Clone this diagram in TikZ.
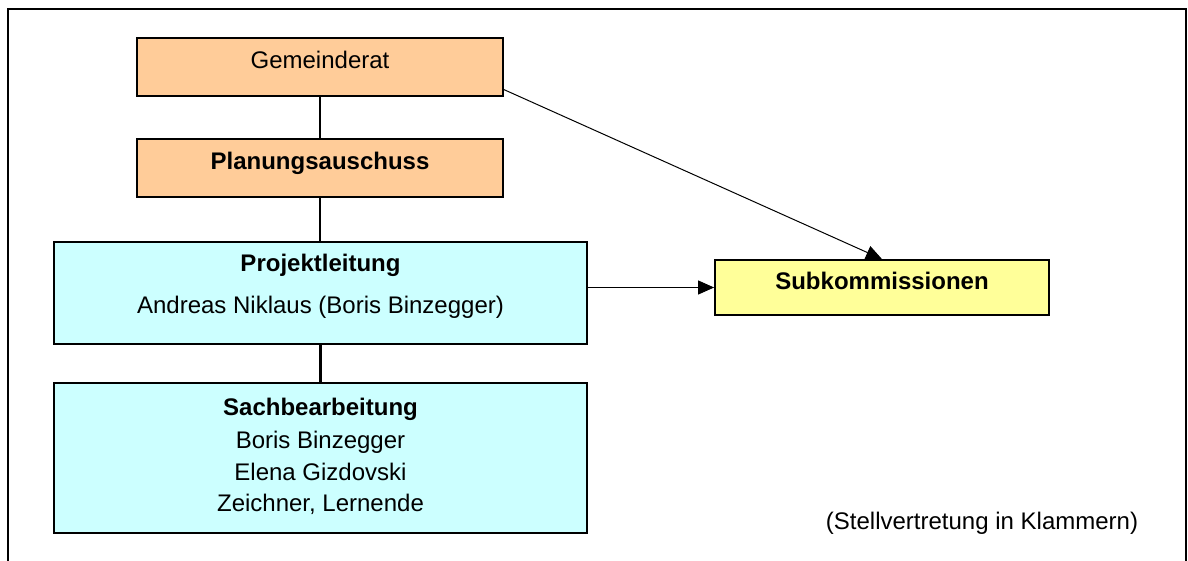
\documentclass[tikz,border=0pt]{standalone}
\usepackage{fontspec}
\setmainfont{Liberation Sans}
\usetikzlibrary{arrows.meta}
\definecolor{ratorange}{HTML}{FFCC99}
\definecolor{leitcyan}{HTML}{CCFFFF}
\definecolor{subyellow}{HTML}{FFFF99}

\begin{document}
\begin{tikzpicture}[x=0.5pt,y=-0.5pt,font=\fontsize{12}{16}\selectfont,
  box/.style={draw,line width=0.9pt,inner sep=0pt,text height=8pt,text depth=6pt},
  zeile/.style={anchor=base,inner sep=0pt},
  link/.style={line width=0.85pt},
  pfeil/.style={line width=0.5pt,-{Triangle[length=8pt,width=7pt]}}]
  \useasboundingbox (0,0) rectangle (1188,561);
  % Rahmen, unten offen
  \draw[line width=1pt] (8,561)--(8,9)--(1186,9)--(1186,561);

  % Gremien
  \node[box,fill=ratorange,minimum width=183pt,minimum height=29pt] (gem) at (320,67) {Gemeinderat};
  \node[box,fill=ratorange,minimum width=183pt,minimum height=29pt,font=\fontsize{12}{16}\selectfont\bfseries] (plan) at (320,168) {Planungsauschuss};
  \node[box,fill=subyellow,minimum width=167pt,minimum height=27.5pt,font=\fontsize{12}{16}\selectfont\bfseries] (sub) at (882,287.5) {Subkommissionen};

  % Projektleitung
  \node[box,fill=leitcyan,minimum width=266.5pt,minimum height=51pt] (proj) at (320.5,293) {};
  \node[zeile,font=\fontsize{12}{16}\selectfont\bfseries] (projkopf) at (320.5,271.7) {Projektleitung};
  \node[zeile] (projname) at (320.5,313.3) {Andreas Niklaus (Boris Binzegger)};

  % Sachbearbeitung
  \node[box,fill=leitcyan,minimum width=266.5pt,minimum height=75pt] (sach) at (320.5,458) {};
  \node[zeile,font=\fontsize{12}{16}\selectfont\bfseries] (sachkopf) at (320.5,415) {Sachbearbeitung};
  \foreach \name/\yy/\nr in {Boris Binzegger/448.3/1,Elena Gizdovski/480/2,{Zeichner, Lernende}/511.7/3}{
    \node[zeile] (sachname\nr) at (320.5,\yy) {\name};
  }

  \node[zeile] (hinweis) at (982,529.3) {(Stellvertretung in Klammern)};

  % Verbindungen
  \draw[link] (gem.south) -- (plan.north);
  \draw[link] (plan.south) -- (plan.south |- proj.north);
  \draw[line width=1.4pt] (proj.south) -- (sach.north);
  \draw[pfeil] (gem.-7.3) -- (sub.north);
  \draw[pfeil] (sub.west -| proj.east) -- (sub.west);
\end{tikzpicture}
\end{document}
